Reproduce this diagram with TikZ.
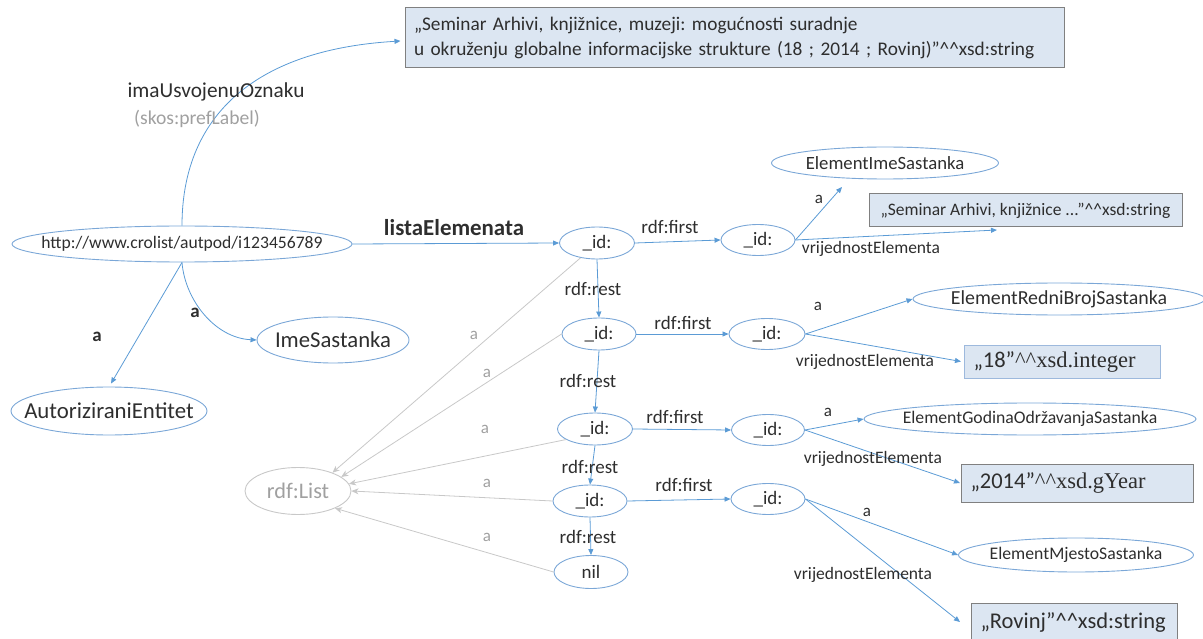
\documentclass[tikz,border=0pt]{standalone}
\usepackage{fontspec}
\setmainfont{Carlito}
\newfontfamily\serifx{Liberation Serif}
\usetikzlibrary{arrows.meta,shapes.geometric}
\definecolor{lineblue}{HTML}{5B9BD5}
\definecolor{ellblue}{HTML}{7BA7D7}
\definecolor{boxfill}{HTML}{DCE6F2}
\definecolor{boxdraw}{HTML}{808080}
\definecolor{boxlight}{HTML}{9DB9DD}
\definecolor{txt}{HTML}{2E2E2E}
\definecolor{grline}{HTML}{C8C8C8}
\definecolor{grtxt}{HTML}{A0A0A0}
\newcommand\fsz[1]{\fontsize{#1}{#1}\selectfont}
\newcommand\zb[1]{\makebox[0pt]{#1}}
\begin{document}
\frenchspacing
\begin{tikzpicture}[x=1pt,y=-1pt,
  font=\fsz{19}, text=txt,
  ell/.style={ellipse, draw=ellblue, line width=0.9pt, inner sep=0pt},
  grell/.style={ellipse, draw=grline, line width=0.9pt, inner sep=0pt, text=grtxt},
  lit/.style={rectangle, draw=boxdraw, fill=boxfill, line width=1pt, inner ysep=0pt, inner xsep=9pt},
  arr/.style={draw=lineblue, line width=0.8pt, -{Triangle[length=6pt,width=5pt]}},
  grarr/.style={draw=grline, line width=0.8pt, -{Stealth[length=7pt,width=6pt,inset=2pt]}},
  lbl/.style={inner sep=0pt, text=txt},
  grlbl/.style={inner sep=0pt, text=grtxt, font=\fsz{17}}
]
\useasboundingbox (0,0) rectangle (1203,639);

% ---- literal boxes
\node[lit, text width=641pt, minimum height=60, align=left,
      font=\fontsize{19.3}{25}\selectfont] (topbox) at (734.5,38)
  {„Seminar Arhivi, knjižnice, muzeji: mogućnosti suradnje\\u okruženju globalne informacijske strukture (18 ; 2014 ; Rovinj)”\textasciicircum\textasciicircum xsd:string};
\node[lit, minimum width=313, minimum height=33, font=\fsz{17.5}] (box1) at (1025.5,210.5)
  {„Seminar Arhivi, knjižnice ...”\textasciicircum\textasciicircum xsd:string};
\node[lit, draw=boxlight, text width=178pt, minimum height=33, anchor=west, align=left] (box2) at (964,361.5)
  {\fsz{22.5}„18”{\serifx\textasciicircum\textasciicircum xsd.integer}};
\node[lit, text width=214pt, minimum height=38, anchor=west, align=left] (box3) at (961,483)
  {\fsz{22.5}„2014”{\serifx\textasciicircum\textasciicircum xsd.gYear}};
\node[lit, text width=188pt, minimum height=38, anchor=west, align=left] (box4) at (971,622)
  {\fsz{22.5}„Rovinj”\textasciicircum\textasciicircum xsd:string};

% ---- ellipses
\node[ell, minimum width=340, minimum height=36] (main) at (182,244) {\zb{\fsz{17.6}http://www.crolist/autpod/i123456789}};
\node[ell, minimum width=196, minimum height=48] (autor) at (109,411) {\zb{\fsz{22.8}AutoriziraniEntitet}};
\node[ell, minimum width=152, minimum height=46] (ime) at (333,340) {\zb{\fsz{22.7}ImeSastanka}};
\node[grell, minimum width=106, minimum height=47] (rdfList) at (298,491) {\zb{\fsz{22.3}rdf:List}};

\node[ell, minimum width=75, minimum height=32] (id1) at (597,243) {\zb{\_id:}};
\node[ell, minimum width=74, minimum height=32] (id2) at (599,334) {\zb{\_id:}};
\node[ell, minimum width=75, minimum height=32] (id3) at (595,429) {\zb{\_id:}};
\node[ell, minimum width=74, minimum height=32] (id4) at (590,501) {\zb{\_id:}};
\node[ell, minimum width=74, minimum height=33] (nil) at (591,572) {\zb{nil}};

\node[ell, minimum width=74, minimum height=31] (fid1) at (758,240) {\zb{\_id:}};
\node[ell, minimum width=76, minimum height=31] (fid2) at (767,334) {\zb{\_id:}};
\node[ell, minimum width=73, minimum height=31] (fid3) at (768,430) {\zb{\_id:}};
\node[ell, minimum width=74, minimum height=31] (fid4) at (768,499) {\zb{\_id:}};

\node[ell, minimum width=227, minimum height=32] (eis) at (885,163) {\zb{\fsz{18.7}ElementImeSastanka}};
\node[ell, minimum width=292, minimum height=32] (erbs) at (1059,299) {\zb{\fsz{19.9}ElementRedniBrojSastanka}};
\node[ell, minimum width=332, minimum height=32] (egos) at (1030,419) {\zb{\fsz{17.7}ElementGodinaOdržavanjaSastanka}};
\node[ell, minimum width=235, minimum height=34] (ems) at (1076,555) {\zb{\fsz{17.7}ElementMjestoSastanka}};

\coordinate (eisTip) at (842,187);
\coordinate (box1Tip) at (997,230);

% ---- main connectors
\draw[arr] (main.north) .. controls (182,120) and (250,50) .. ([yshift=-3pt,xshift=-4pt]topbox.west);
\draw[arr] (main.east) -- (id1.west);
\draw[arr] (main.south) -- ([xshift=2pt,yshift=3pt]autor.north);
\draw[arr] (main.south) .. controls (185,300) and (215,338) .. (ime.west);

% ---- list chain
\draw[arr] (id1.south) -- (id2.north);
\draw[arr] (id2.south) -- (id3.north);
\draw[arr] (id3.south) -- (id4.north);
\draw[arr] (id4.south) -- (nil.north);
\draw[arr] (id1.east) -- (fid1.west);
\draw[arr] (id2.east) -- (fid2.west);
\draw[arr] (id3.east) -- (fid3.west);
\draw[arr] (id4.east) -- (fid4.west);

% ---- gray type edges
\draw[grarr] (id1.222) -- (rdfList.28);
\draw[grarr] (id2.west) -- (rdfList.18);
\draw[grarr] (id3.200) -- (rdfList.8);
\draw[grarr] (id4.west) -- (rdfList.0);
\draw[grarr] (nil.west) -- (rdfList.-25);

% ---- element edges
\draw[arr] (fid1.east) -- (eisTip);
\draw[arr] (fid1.east) -- (box1Tip);
\draw[arr] (fid2.east) -- (erbs.west);
\draw[arr] (fid2.east) -- ([xshift=-3pt]box2.west);
\draw[arr] (fid3.east) -- (egos.west);
\draw[arr] (fid3.east) -- ([xshift=-1pt]box3.west);
\draw[arr] (fid4.east) -- (ems.west);
\draw[arr] (fid4.east) -- ([xshift=-11pt]box4.west);

% ---- labels
\node[lbl, font=\fsz{21.3}] (lImaU) at (216,92) {imaUsvojenuOznaku};
\node[lbl, text=grtxt, font=\fsz{19.6}] (lSkos) at (197,119) {(skos:prefLabel)};
\node[lbl, font=\bfseries\fsz{22.9}] (lLista) at (454,228) {listaElemenata};
\node[lbl, font=\bfseries\fsz{19}] (lA1) at (97,337) {a};
\node[lbl, font=\bfseries\fsz{19}] (lA2) at (195,313) {a};

\node[lbl] (lf1) at (670,227) {rdf:first};
\node[lbl] (lf2) at (683,323) {rdf:first};
\node[lbl] (lf3) at (675,417) {rdf:first};
\node[lbl] (lf4) at (684,485) {rdf:first};
\node[lbl] (lr1) at (593,289) {rdf:rest};
\node[lbl] (lr2) at (588,381) {rdf:rest};
\node[lbl] (lr3) at (590,467) {rdf:rest};
\node[lbl] (lr4) at (588,537) {rdf:rest};

\node[grlbl] (ga1) at (474,335) {a};
\node[grlbl] (ga2) at (487,373) {a};
\node[grlbl] (ga3) at (485,429) {a};
\node[grlbl] (ga4) at (487,483) {a};
\node[grlbl] (ga5) at (487,537) {a};

\node[lbl, font=\fsz{17}] (ea1) at (819,199) {a};
\node[lbl, font=\fsz{17}] (ea2) at (818,306) {a};
\node[lbl, font=\fsz{17}] (ea3) at (828,412) {a};
\node[lbl, font=\fsz{17}] (ea4) at (867,512) {a};
\node[lbl, font=\fsz{17.5}] (v1) at (871,249) {vrijednostElementa};
\node[lbl, font=\fsz{17.5}] (v2) at (865,362) {vrijednostElementa};
\node[lbl, font=\fsz{17.5}] (v3) at (873,459) {vrijednostElementa};
\node[lbl, font=\fsz{17.5}] (v4) at (863,575) {vrijednostElementa};
\end{tikzpicture}
\end{document}
